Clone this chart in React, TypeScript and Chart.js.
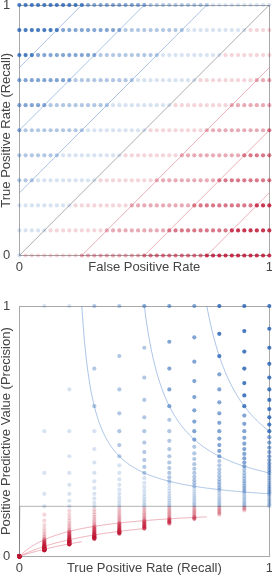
import React, { useEffect, useRef } from "react";
import { Chart, registerables } from "chart.js";

Chart.register(...registerables);

// ---- data -------------------------------------------------------------
const POSITIVES = 10;
const NEGATIVES = 40;
const TP_COUNTS = [0, 1, 2, 3, 4, 5, 6, 7, 8, 9, 10];
const FP_COUNTS = [
  0, 1, 2, 3, 4, 5, 6, 7, 8, 9, 10, 11, 12, 13, 14, 15, 16, 17, 18, 19, 20,
  21, 22, 23, 24, 25, 26, 27, 28, 29, 30, 31, 32, 33, 34, 35, 36, 37, 38, 39, 40,
];
const ISO_LEVELS = [0.75, 0.5, 0.25, -0.25, -0.5, -0.75];
const AXIS_TICKS = [0, 1];

const ROC_X_TITLE = "False Positive Rate";
const ROC_Y_TITLE = "True Positive Rate (Recall)";
const PR_X_TITLE = "True Positive Rate (Recall)";
const PR_Y_TITLE = "Positive Predictive Value (Precision)";

// ---- styles -----------------------------------------------------------
const TEXT = "#444";
const GRID = "#a8a8a8";
const BLUE_BANDS = [
  "rgba(40,100,180,0.18)",
  "rgba(40,100,180,0.36)",
  "rgba(40,100,180,0.58)",
  "rgba(40,100,180,0.85)",
];
const RED_BANDS = [
  "rgba(190,20,50,0.18)",
  "rgba(190,20,50,0.36)",
  "rgba(190,20,50,0.58)",
  "rgba(190,20,50,0.85)",
];
const BLUE_LINE = "rgba(90,140,210,0.5)";
const RED_LINE = "rgba(215,80,100,0.45)";
const GRAY_LINE = "rgba(0,0,0,0.33)";
const FONT = { family: "'Liberation Sans', Arial, sans-serif", size: 13 };

function pointColor(tp: number, fp: number) {
  const scaled = tp * NEGATIVES - fp * POSITIVES; // informedness * P * N
  const bandSize = (POSITIVES * NEGATIVES) / 4;
  const band = Math.min(3, Math.floor(Math.abs(scaled) / bandSize));
  return scaled >= 0 ? BLUE_BANDS[band] : RED_BANDS[band];
}

function gridPoints(mode: "roc" | "pr") {
  const pts: { x: number; y: number }[] = [];
  const colors: string[] = [];
  for (const tp of TP_COUNTS) {
    for (const fp of FP_COUNTS) {
      if (mode === "roc") {
        pts.push({ x: fp / NEGATIVES, y: tp / POSITIVES });
      } else {
        if (tp + fp === 0) continue;
        pts.push({ x: tp / POSITIVES, y: tp / (tp + fp) });
      }
      colors.push(pointColor(tp, fp));
    }
  }
  return { pts, colors };
}

function lineDataset(data: { x: number; y: number }[], color: string) {
  return {
    type: "line" as const,
    data,
    showLine: true,
    borderColor: color,
    borderWidth: 1,
    pointRadius: 0,
    fill: false,
    cubicInterpolationMode: "monotone" as const,
    order: 0,
  };
}

// iso-informedness lines in ROC space: TPR = FPR + level
function rocIsoLine(level: number) {
  return level >= 0
    ? [{ x: 0, y: level }, { x: 1 - level, y: 1 }]
    : [{ x: -level, y: 0 }, { x: 1, y: 1 + level }];
}

// same line mapped into PR space, traced along the FP counts
function prIsoLine(level: number) {
  const out: { x: number; y: number }[] = [];
  const sub = 12;
  for (let i = 0; i < FP_COUNTS.length; i++) {
    const steps = i === FP_COUNTS.length - 1 ? 1 : sub;
    for (let s = 0; s < steps; s++) {
      const fp =
        FP_COUNTS[i] +
        (i < FP_COUNTS.length - 1 ? ((FP_COUNTS[i + 1] - FP_COUNTS[i]) * s) / sub : 0);
      const tpr = fp / NEGATIVES + level;
      if (tpr < -1e-9 || tpr > 1 + 1e-9) continue;
      const tp = tpr * POSITIVES;
      const prec = tp + fp === 0 ? 0 : tp / (tp + fp);
      out.push({ x: tpr, y: prec });
    }
  }
  return out;
}

function axis(title: string, isX: boolean) {
  return {
    type: "linear" as const,
    min: 0,
    max: 1,
    afterBuildTicks: (s: any) => {
      s.ticks = AXIS_TICKS.map((v) => ({ value: v }));
    },
    afterFit: (s: any) => {
      s.paddingTop = 0;
      s.paddingBottom = 0;
      s.paddingLeft = 0;
      s.paddingRight = 0;
    },
    grid: { color: GRID, drawTicks: false, lineWidth: 1 },
    border: { display: true, color: GRID },
    ticks: {
      padding: isX ? 4 : 9,
      color: TEXT,
      font: FONT,
      maxRotation: 0,
      autoSkip: false,
      callback: (v: any) => String(v),
    },
    title: {
      display: true,
      text: title,
      color: TEXT,
      font: FONT,
      padding: isX ? { top: -19.6, bottom: 0 } : { top: -1.3, bottom: -20.2 },
    },
  };
}

function makeConfig(mode: "roc" | "pr") {
  const { pts, colors } = gridPoints(mode);
  const lines: any[] = [];
  for (const lv of ISO_LEVELS) {
    const data = mode === "roc" ? rocIsoLine(lv) : prIsoLine(lv);
    lines.push(lineDataset(data, lv > 0 ? BLUE_LINE : RED_LINE));
  }
  lines.push(
    lineDataset(mode === "roc" ? rocIsoLine(0) : prIsoLine(0), GRAY_LINE)
  );
  return {
    type: "scatter" as const,
    data: {
      datasets: [
        ...lines,
        {
          type: "scatter" as const,
          data: pts,
          backgroundColor: colors,
          borderWidth: 0,
          pointRadius: 2.1,
          pointHoverRadius: 2.1,
          clip: false,
          order: 1,
        },
      ],
    },
    options: {
      responsive: false,
      animation: false as const,
      events: [],
      layout: {
        padding:
          mode === "roc"
            ? { top: 5, right: 2.7, bottom: 12.9, left: 0 }
            : { top: 18, right: 2.7, bottom: 0, left: 0 },
      },
      plugins: { legend: { display: false }, tooltip: { enabled: false } },
      scales: {
        x: axis(mode === "roc" ? ROC_X_TITLE : PR_X_TITLE, true),
        y: axis(mode === "roc" ? ROC_Y_TITLE : PR_Y_TITLE, false),
      },
    },
  };
}

function ChartCanvas({ mode, top }: { mode: "roc" | "pr"; top: number }) {
  const ref = useRef<HTMLCanvasElement | null>(null);
  useEffect(() => {
    if (!ref.current) return;
    const chart = new Chart(ref.current, makeConfig(mode) as any);
    return () => chart.destroy();
  }, [mode]);
  return (
    <canvas
      ref={ref}
      width={272}
      height={288}
      style={{ position: "absolute", left: 0, top, width: 272, height: 288 }}
    />
  );
}

export default function App() {
  useEffect(() => {
    document.body.style.margin = "0";
  }, []);
  return (
    <div
      style={{
        position: "absolute",
        left: 0,
        top: 0,
        width: 272,
        height: 576,
        overflow: "hidden",
        background: "#fff",
      }}
    >
      <ChartCanvas mode="roc" top={0} />
      <ChartCanvas mode="pr" top={288} />
    </div>
  );
}
